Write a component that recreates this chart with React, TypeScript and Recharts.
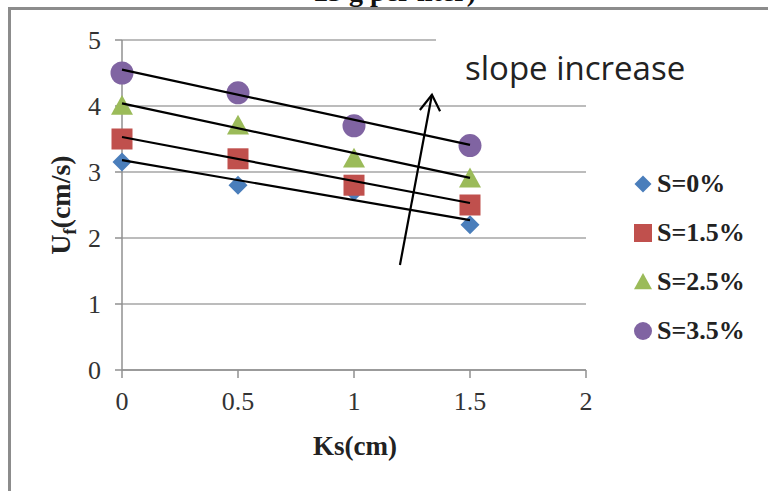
import React from 'react';
import { ScatterChart, Scatter, XAxis, YAxis, CartesianGrid } from 'recharts';

// roughness height Ks (cm)
const ks = [0, 0.5, 1, 1.5];

// Uf (cm/s) per slope
const s0 = [3.15, 2.8, 2.7, 2.2];
const s15 = [3.5, 3.2, 2.8, 2.5];
const s25 = [4.0, 3.7, 3.2, 2.9];
const s35 = [4.5, 4.2, 3.7, 3.4];

// trend line ends (at Ks = 0 and Ks = 1.5)
const trendKs = [0, 1.5];
const trend0 = [3.18, 2.27];
const trend15 = [3.53, 2.53];
const trend25 = [4.04, 2.91];
const trend35 = [4.55, 3.41];

// arrow "slope increase"
const arrowShaft = [
  { x: 1.198, y: 1.59 },
  { x: 1.336, y: 4.17 },
];
const arrowHead = [
  { x: 1.284, y: 3.94 },
  { x: 1.336, y: 4.17 },
  { x: 1.371, y: 3.92 },
];

const xTicks = [0, 0.5, 1, 1.5, 2];
const yTicks = [0, 1, 2, 3, 4, 5];

const toPts = (ys: number[], xs: number[]) => xs.map((x, i) => ({ x, y: ys[i] }));

const Diamond = ({ cx, cy, r = 9.5 }: any) => (
  <polygon points={`${cx},${cy - r} ${cx + r},${cy} ${cx},${cy + r} ${cx - r},${cy}`} fill="#4a7ebb" />
);
const Square = ({ cx, cy, r = 10.5 }: any) => (
  <rect x={cx - r} y={cy - r} width={r * 2} height={r * 2} fill="#c0504d" />
);
const Triangle = ({ cx, cy, r = 11 }: any) => (
  <polygon points={`${cx},${cy - r} ${cx + r},${cy + r * 0.8} ${cx - r},${cy + r * 0.8}`} fill="#9bbb59" />
);
const Circle = ({ cx, cy, r = 11.5 }: any) => <circle cx={cx} cy={cy} r={r} fill="#8064a2" />;
const NoDot = () => null;

const series = [
  { name: 'S=0%', values: s0, Shape: Diamond },
  { name: 'S=1.5%', values: s15, Shape: Square },
  { name: 'S=2.5%', values: s25, Shape: Triangle },
  { name: 'S=3.5%', values: s35, Shape: Circle },
];
const trends = [trend0, trend15, trend25, trend35];

const serif = '"Liberation Serif", "Times New Roman", serif';

const LegendBox = () => (
  <div
    style={{
      position: 'absolute',
      left: 634,
      top: 159,
      fontFamily: serif,
      fontWeight: 'bold',
      fontSize: 26,
      color: '#222',
    }}
  >
    {series.map((s) => (
      <div key={s.name} style={{ display: 'flex', alignItems: 'center', height: 49 }}>
        <svg width={18} height={20} style={{ marginRight: 5 }}>
          <s.Shape cx={9} cy={10} r={s.Shape === Diamond ? 8.5 : 9} />
        </svg>
        <span>{s.name}</span>
      </div>
    ))}
  </div>
);

const YLabel = () => (
  <text
    transform="translate(70,205) rotate(-90)"
    textAnchor="middle"
    fontFamily={serif}
    fontWeight="bold"
    fontSize={28}
    fill="#222"
  >
    U<tspan fontSize={18} dy={6}>f</tspan>
    <tspan dy={-6}>(cm/s)</tspan>
  </text>
);

const XLabel = () => (
  <text x={355} y={455} textAnchor="middle" fontFamily={serif} fontWeight="bold" fontSize={27} fill="#222">
    Ks(cm)
  </text>
);

export default function App() {
  return (
    <div
      style={{
        position: 'absolute',
        left: 0,
        top: 0,
        width: 768,
        height: 491,
        overflow: 'hidden',
        background: '#fff',
      }}
    >
      <div
        style={{
          position: 'absolute',
          left: 8,
          top: 7,
          width: 800,
          height: 520,
          borderTop: '3px solid #8c8c8c',
          borderLeft: '3px solid #8c8c8c',
        }}
      />
      <div
        style={{
          position: 'absolute',
          left: 314,
          top: -24,
          fontFamily: serif,
          fontWeight: 'bold',
          fontSize: 28,
          color: '#111',
        }}
      >
        25 g per liter)
      </div>
      <div style={{ position: 'absolute', left: 0, top: 0 }}>
        <ScatterChart width={768} height={491} margin={{ top: 40, right: 182, bottom: 81, left: 62 }}>
          <CartesianGrid vertical={false} stroke="#a6a6a6" strokeWidth={1.5} />
          <XAxis
            type="number"
            dataKey="x"
            domain={[0, 2]}
            ticks={xTicks}
            height={40}
            stroke="#909090"
            strokeWidth={1.5}
            tickSize={8}
            tickMargin={14}
            tick={{ fontFamily: serif, fontSize: 26, fill: '#333' }}
            label={<XLabel />}
          />
          <YAxis
            type="number"
            dataKey="y"
            domain={[0, 5]}
            ticks={yTicks}
            width={60}
            stroke="#909090"
            strokeWidth={1.5}
            tickSize={7}
            tickMargin={14}
            tick={{ fontFamily: serif, fontSize: 26, fill: '#333' }}
            label={<YLabel />}
          />
          {series.map((s) => (
            <Scatter
              key={s.name}
              name={s.name}
              data={toPts(s.values, ks)}
              shape={<s.Shape />}
              isAnimationActive={false}
            />
          ))}
          {trends.map((t, i) => (
            <Scatter
              key={'t' + i}
              data={toPts(t, trendKs)}
              line={{ stroke: '#000', strokeWidth: 2.2 }}
              shape={<NoDot />}
              legendType="none"
              isAnimationActive={false}
            />
          ))}
          <Scatter
            data={arrowShaft}
            line={{ stroke: '#000', strokeWidth: 2.2 }}
            shape={<NoDot />}
            legendType="none"
            isAnimationActive={false}
          />
          <Scatter
            data={arrowHead}
            line={{ stroke: '#000', strokeWidth: 2.2 }}
            shape={<NoDot />}
            legendType="none"
            isAnimationActive={false}
          />
        </ScatterChart>
      </div>
      <LegendBox />
      <div
        style={{
          position: 'absolute',
          left: 436,
          top: 34,
          width: 290,
          height: 66,
          background: '#fff',
          display: 'flex',
          alignItems: 'center',
          paddingLeft: 29,
          boxSizing: 'border-box',
          fontFamily: '"Open Sans", sans-serif',
          fontSize: 33,
          color: '#222',
        }}
      >
        slope increase
      </div>
    </div>
  );
}
